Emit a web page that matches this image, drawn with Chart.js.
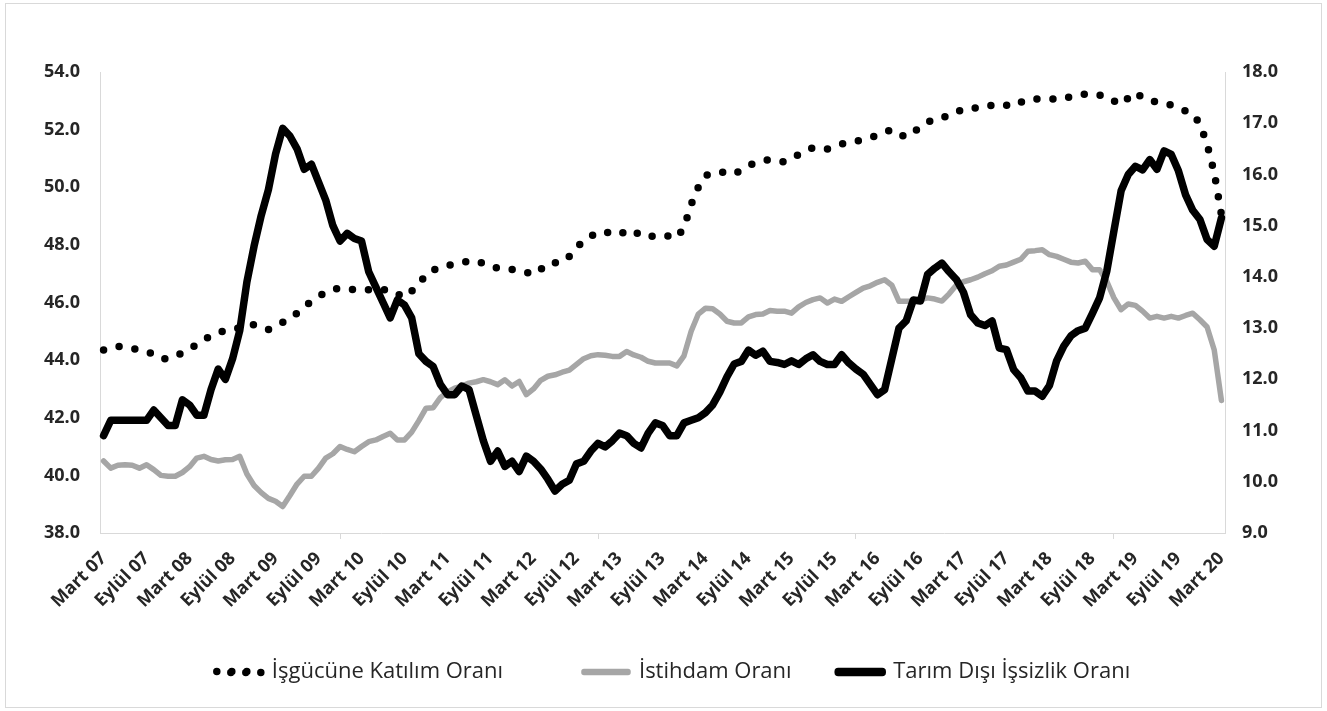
<!DOCTYPE html>
<html lang="tr">
<head>
<meta charset="utf-8">
<title>İşgücü Göstergeleri</title>
<script src="https://cdn.jsdelivr.net/npm/chart.js@4.4.1/dist/chart.umd.min.js"></script>
<style>
    html, body { margin: 0; padding: 0; background: #fff; }
    #wrap { position: relative; width: 1327px; height: 711px; }
</style>
</head>
<body>
<div id="wrap"><canvas id="grafik"></canvas></div>
<script>
// Aylık seriler: Mart 07 - Mart 20 (157 ay)
const AYLAR = ['Ocak', 'Şubat', 'Mart', 'Nisan', 'Mayıs', 'Haziran', 'Temmuz', 'Ağustos', 'Eylül', 'Ekim', 'Kasım', 'Aralık'];
const BASLANGIC_AY = 2;      // Mart
const BASLANGIC_YIL = 7;     // 2007
const AY_SAYISI = 157;
const ETIKET_ARALIGI = 6;    // her 6 ayda bir etiket

const SOL_EKSEN = { min: 38, max: 54, adim: 2 };
const SAG_EKSEN = { min: 9, max: 18, adim: 1 };

const SERI_ADLARI = ['İşgücüne Katılım Oranı', 'İstihdam Oranı', 'Tarım Dışı İşsizlik Oranı'];

const katilimOrani = [
    44.35, 44.42, 44.48, 44.45, 44.4, 44.35, 44.3, 44.2, 44.05, 44.05, 44.15, 44.25,
    44.4, 44.53, 44.7, 44.85, 44.95, 45.03, 45.08, 45.12, 45.18, 45.23, 45.15, 45.06,
    45.2, 45.31, 45.45, 45.63, 45.85, 46.04, 46.2, 46.36, 46.45, 46.5, 46.48, 46.44,
    46.44, 46.44, 46.44, 46.44, 46.44, 46.3, 46.18, 46.4, 46.6, 47.0, 47.12, 47.22,
    47.28, 47.35, 47.4, 47.43, 47.45, 47.35, 47.23, 47.2, 47.2, 47.15, 47.12, 47.05,
    46.97, 47.15, 47.37, 47.38, 47.39, 47.6, 47.9, 48.15, 48.3, 48.45, 48.45, 48.4,
    48.35, 48.5, 48.5, 48.3, 48.28, 48.32, 48.35, 48.3, 48.24, 48.6, 49.4, 50.0,
    50.4, 50.5, 50.53, 50.5, 50.45, 50.6, 50.75, 50.85, 50.92, 50.96, 50.92, 50.88,
    51.0, 51.13, 51.25, 51.38, 51.36, 51.33, 51.4, 51.5, 51.55, 51.6, 51.65, 51.72,
    51.8, 51.9, 52.0, 51.85, 51.74, 51.9, 52.09, 52.25, 52.38, 52.42, 52.48, 52.6,
    52.72, 52.75, 52.75, 52.78, 52.85, 52.89, 52.85, 52.81, 52.95, 53.05, 53.06, 53.07,
    53.07, 53.06, 53.06, 53.15, 53.21, 53.23, 53.25, 53.2, 53.16, 53.0, 52.87, 53.1,
    53.3, 53.1, 53.0, 52.97, 52.92, 52.85, 52.75, 52.65, 52.55, 52.2, 51.5, 50.5,
    49.05
];

const istihdamOrani = [
    40.5, 40.25, 40.35, 40.37, 40.35, 40.25, 40.37, 40.2, 40.0, 39.97, 39.97, 40.1,
    40.3, 40.6, 40.66, 40.55, 40.5, 40.54, 40.55, 40.66, 40.05, 39.65, 39.4, 39.2,
    39.1, 38.92, 39.3, 39.7, 39.97, 39.97, 40.25, 40.6, 40.75, 41.0, 40.9, 40.82,
    41.0, 41.17, 41.23, 41.35, 41.46, 41.23, 41.23, 41.5, 41.9, 42.33, 42.35, 42.7,
    42.9, 43.03, 43.1, 43.2, 43.25, 43.32, 43.25, 43.15, 43.32, 43.1, 43.26, 42.8,
    43.0, 43.3, 43.44, 43.49, 43.58, 43.65, 43.85, 44.05, 44.15, 44.19, 44.17, 44.13,
    44.13, 44.3, 44.18, 44.1, 43.96, 43.9, 43.9, 43.9, 43.8, 44.15, 45.0, 45.6,
    45.8, 45.78, 45.6, 45.35, 45.29, 45.29, 45.5, 45.58, 45.6, 45.72, 45.7, 45.7,
    45.63, 45.85, 46.0, 46.1, 46.16, 45.98, 46.12, 46.04, 46.2, 46.35, 46.5, 46.58,
    46.7, 46.79, 46.6, 46.04, 46.04, 46.04, 46.1, 46.16, 46.12, 46.05, 46.3, 46.6,
    46.72, 46.79, 46.88, 47.0, 47.1, 47.26, 47.3, 47.4, 47.5, 47.78, 47.8, 47.83,
    47.66, 47.6, 47.5, 47.4, 47.37, 47.43, 47.14, 47.14, 46.73, 46.16, 45.75, 45.95,
    45.9, 45.7, 45.46, 45.52, 45.46, 45.52, 45.46, 45.55, 45.63, 45.4, 45.15, 44.35,
    42.6
];

const tarimDisiIssizlik = [
    10.9, 11.2, 11.2, 11.2, 11.2, 11.2, 11.2, 11.4, 11.25, 11.1, 11.1, 11.6,
    11.5, 11.3, 11.3, 11.8, 12.2, 12.0, 12.4, 12.95, 13.9, 14.6, 15.2, 15.7,
    16.4, 16.9, 16.75, 16.5, 16.1, 16.2, 15.85, 15.5, 15.0, 14.7, 14.85, 14.75,
    14.7, 14.1, 13.8, 13.5, 13.2, 13.55, 13.45, 13.2, 12.5, 12.35, 12.25, 11.9,
    11.7, 11.7, 11.87, 11.8, 11.3, 10.8, 10.4, 10.6, 10.3, 10.4, 10.2, 10.5,
    10.4, 10.25, 10.05, 9.82, 9.95, 10.03, 10.35, 10.4, 10.6, 10.75, 10.68, 10.8,
    10.95, 10.9, 10.75, 10.66, 10.95, 11.15, 11.1, 10.9, 10.9, 11.15, 11.2, 11.25,
    11.35, 11.5, 11.75, 12.05, 12.3, 12.35, 12.57, 12.47, 12.55, 12.35, 12.33, 12.29,
    12.36, 12.29, 12.4, 12.48, 12.35, 12.29, 12.29, 12.48, 12.32, 12.2, 12.1, 11.9,
    11.7, 11.8, 12.4, 13.0, 13.14, 13.55, 13.53, 14.05, 14.17, 14.27, 14.1, 13.95,
    13.7, 13.26, 13.1, 13.05, 13.14, 12.61, 12.58, 12.19, 12.03, 11.77, 11.77, 11.67,
    11.88, 12.36, 12.65, 12.85, 12.95, 13.0, 13.29, 13.59, 14.11, 14.9, 15.68, 16.0,
    16.16, 16.09, 16.29, 16.1, 16.46, 16.39, 16.07, 15.6, 15.3, 15.12, 14.73, 14.6,
    15.15
];

// "Mart 07", "Nisan 07", ... etiketleri
const aylar = [];
for (let i = 0; i < AY_SAYISI; i++) {
    const k = BASLANGIC_AY + i;
    const yil = BASLANGIC_YIL + Math.floor(k / 12);
    aylar.push(`${AYLAR[k % 12]} ${String(yil).padStart(2, '0')}`);
}

const EKSEN_RENGI = '#d9d9d9';
const YAZI_RENGI = '#262626';
const YAZI_AILESI = "'Open Sans', 'Liberation Sans', sans-serif";

// Lejant öğeleri arasındaki ek boşluk (boşluk karakteri sayısı)
const LEJANT_BOSLUK = [11, 5, 0];

// Dış çerçeve ve beyaz zemin
const cerceve = {
    id: 'cerceve',
    beforeDraw(chart) {
        const { ctx, width, height } = chart;
        ctx.save();
        ctx.fillStyle = '#fff';
        ctx.fillRect(0, 0, width, height);
        ctx.strokeStyle = EKSEN_RENGI;
        ctx.lineWidth = 1;
        ctx.strokeRect(5.5, 3.5, width - 11, height - 7);
        ctx.restore();
    }
};

const etiketliMi = (index) => index % ETIKET_ARALIGI === 0;

new Chart(document.getElementById('grafik'), {
    type: 'line',
    data: {
        labels: aylar,
        datasets: [
            {
                label: SERI_ADLARI[0],
                data: katilimOrani,
                yAxisID: 'ySol',
                order: 3,
                borderColor: '#000',
                backgroundColor: 'rgba(0,0,0,0)',
                borderWidth: 7.5,
                borderDash: [0, 16],
                borderCapStyle: 'round',
                borderJoinStyle: 'round',
                pointRadius: 0,
                tension: 0
            },
            {
                label: SERI_ADLARI[1],
                data: istihdamOrani,
                yAxisID: 'ySol',
                order: 2,
                borderColor: '#a6a6a6',
                backgroundColor: '#a6a6a6',
                borderWidth: 5.5,
                borderCapStyle: 'round',
                borderJoinStyle: 'round',
                pointRadius: 0,
                tension: 0
            },
            {
                label: SERI_ADLARI[2],
                data: tarimDisiIssizlik,
                yAxisID: 'ySag',
                order: 1,
                borderColor: '#000',
                backgroundColor: '#000',
                borderWidth: 7.5,
                borderCapStyle: 'round',
                borderJoinStyle: 'round',
                pointRadius: 0,
                tension: 0
            }
        ]
    },
    options: {
        responsive: true,
        maintainAspectRatio: false,
        animation: false,
        layout: { padding: { top: 72, bottom: 18, left: 20, right: 0 } },
        plugins: {
            tooltip: { enabled: false },
            legend: {
                position: 'bottom',
                labels: {
                    boxWidth: 44,
                    boxHeight: 1,
                    padding: 18,
                    color: YAZI_RENGI,
                    font: { family: YAZI_AILESI, size: 22 },
                    sort: (a, b) => a.datasetIndex - b.datasetIndex,
                    generateLabels(chart) {
                        const items = Chart.defaults.plugins.legend.labels.generateLabels(chart);
                        items.forEach(item => {
                            item.text += '\u00a0'.repeat(LEJANT_BOSLUK[item.datasetIndex]);
                            // 44px kutu çevresinde 4 nokta olacak şekilde
                            if (item.lineDash && item.lineDash.length) item.lineDash = [0, 15];
                        });
                        return items;
                    }
                }
            }
        },
        scales: {
            x: {
                type: 'category',
                offset: true,
                grid: {
                    offset: true,
                    drawOnChartArea: false,
                    drawTicks: true,
                    tickLength: 6,
                    color: (c) => etiketliMi(c.index) ? EKSEN_RENGI : 'rgba(0,0,0,0)'
                },
                border: { color: EKSEN_RENGI, width: 1 },
                ticks: {
                    autoSkip: false,
                    minRotation: 45,
                    maxRotation: 45,
                    padding: 9,
                    color: YAZI_RENGI,
                    font: { family: YAZI_AILESI, size: 18, weight: 'bold' },
                    callback(value, index) {
                        return etiketliMi(index) ? this.getLabelForValue(value) : null;
                    }
                },
                afterFit(scale) { scale.height = 110; }
            },
            ySol: {
                position: 'left',
                min: SOL_EKSEN.min,
                max: SOL_EKSEN.max,
                grid: { drawOnChartArea: false, drawTicks: false },
                border: { color: EKSEN_RENGI, width: 1 },
                ticks: {
                    stepSize: SOL_EKSEN.adim,
                    padding: 20,
                    color: YAZI_RENGI,
                    font: { family: YAZI_AILESI, size: 18, weight: 'bold' },
                    callback: (v) => v.toFixed(1)
                },
                afterFit(scale) { scale.width = 80; }
            },
            ySag: {
                position: 'right',
                min: SAG_EKSEN.min,
                max: SAG_EKSEN.max,
                grid: { drawOnChartArea: false, drawTicks: false },
                border: { color: EKSEN_RENGI, width: 1 },
                ticks: {
                    stepSize: SAG_EKSEN.adim,
                    padding: 17,
                    color: YAZI_RENGI,
                    font: { family: YAZI_AILESI, size: 18, weight: 'bold' },
                    callback: (v) => v.toFixed(1)
                },
                afterFit(scale) { scale.width = 102; }
            }
        }
    },
    plugins: [cerceve]
});
</script>
</body>
</html>
